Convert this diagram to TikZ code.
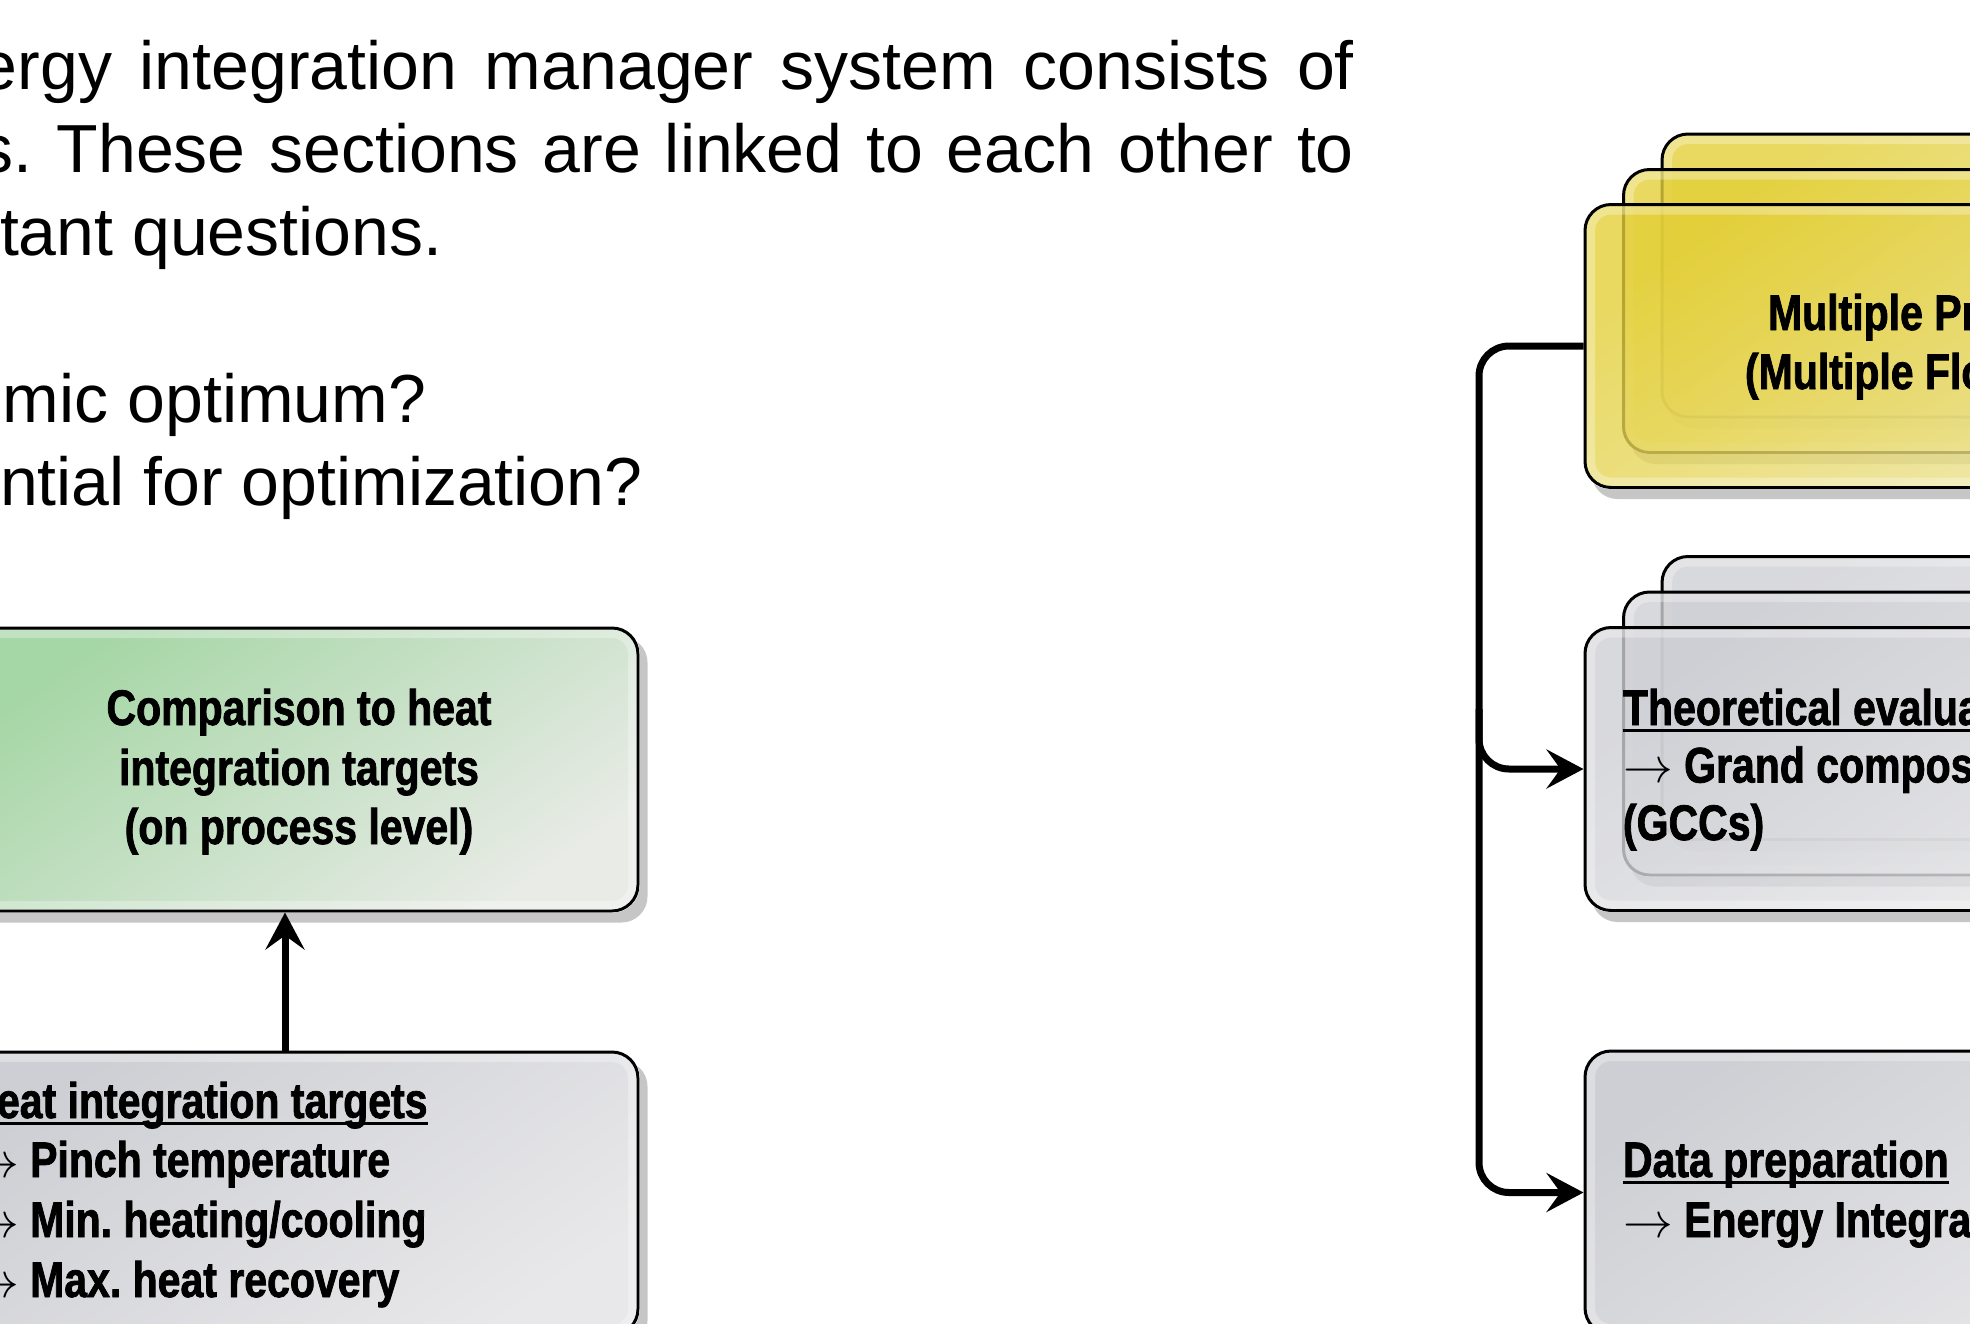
\documentclass[tikz,border=0pt]{standalone}
\usepackage{fontspec}
\setmainfont{Liberation Sans}
\newfontfamily\narrowfont{Liberation Sans}[FakeStretch=0.82, FakeBold=1.5]
\usetikzlibrary{arrows.meta,calc}

\definecolor{ylwA}{HTML}{E3CF38}
\definecolor{ylwB}{HTML}{ECE39E}
\definecolor{gryA}{HTML}{CECFD4}
\definecolor{gryB}{HTML}{E8E8EA}
\definecolor{grnA}{HTML}{A5D6A5}
\definecolor{grnB}{HTML}{E8EBE6}
\definecolor{shadowgray}{HTML}{C6C6C6}

% underline set at a fixed depth below the baseline
\newsavebox\ulbox
\newcommand{\ulined}[1]{\sbox\ulbox{#1}\rlap{\rule[-3.25pt]{\wd\ulbox}{1.5pt}}\usebox\ulbox}

% soft shadow to the lower right, kept outside the panel itself
\newcommand{\panelshadow}[1]{%
  \begin{scope}[even odd rule]
    \clip[rounded corners=13pt] (-100,-100) rectangle (2100,1450)
      (#1.south west) rectangle (#1.north east);
    \fill[shadowgray, rounded corners=13pt]
      ([xshift=4pt,yshift=-5pt]#1.south west) rectangle ([xshift=4pt,yshift=-5pt]#1.north east);
  \end{scope}}

\tikzset{
  panel/.style={draw=black, line width=1.5pt, rounded corners=13pt,
    minimum width=339pt, minimum height=141.5pt, inner sep=0pt,
    path picture={\draw[white, opacity=0.3, line width=10pt, rounded corners=13pt]
      (path picture bounding box.south west) rectangle (path picture bounding box.north east);}},
  yellowpanel/.style={panel, top color=ylwA, bottom color=ylwB, shading angle=35},
  graypanel/.style={panel, top color=gryA, bottom color=gryB, shading angle=35},
  greenpanel/.style={panel, top color=grnA, bottom color=grnB, shading angle=35},
  layered/.style={fill opacity=0.8},
  conn/.style={line width=3.5pt, rounded corners=15pt,
    -{Stealth[length=18.5pt, width=19.5pt, inset=7pt]}},
  plaintext/.style={inner sep=0pt, outer sep=0pt, anchor=base west},
  slidetext/.style={plaintext, font=\frenchspacing\fontsize{34pt}{41.5pt}\selectfont},
  boxtext/.style={plaintext, font=\narrowfont\bfseries\fontsize{25pt}{30pt}\selectfont},
}

\begin{document}
\frenchspacing
\begin{tikzpicture}[x=0.5pt, y=-0.5pt]
\useasboundingbox (0,0) rectangle (1970,1323);
\clip (0,0) rectangle (1970,1323);

% introductory text
\node[slidetext] (intro1) at (-20,89) {\makebox[687pt][s]{ergy integration manager system consists of}};
\node[slidetext] (intro2) at (-20,172) {\makebox[687pt][s]{s. These sections are linked to each other to}};
\node[slidetext] (intro3) at (0,255) {tant questions.};
\node[slidetext] (quest1) at (3,422) {mic optimum?};
\node[slidetext] (quest2) at (0,505) {ntial for optimization?};

% yellow stack
\node[yellowpanel, layered] (yel3) at (2001,275.5) {};
\panelshadow{yel3}
\node[yellowpanel, layered] (yel2) at (1962.5,311) {};
\panelshadow{yel2}
\node[yellowpanel, layered] (yel1) at (1924,346) {};
\panelshadow{yel1}

% gray stack
\node[graypanel, layered] (gry3) at (2001,698) {};
\panelshadow{gry3}
\node[graypanel, layered] (gry2) at (1962.5,733.5) {};
\panelshadow{gry2}
\node[graypanel, layered] (gry1) at (1924,769) {};
\panelshadow{gry1}

% single panels
\node[graypanel] (dat) at (1924,1192.5) {};
\panelshadow{dat}
\node[greenpanel] (cmp) at (299,769.5) {};
\panelshadow{cmp}
\node[graypanel] (heat) at (299,1193.5) {};
\panelshadow{heat}

% panel texts
\node[boxtext] (yt1) at (1768,330) {Multiple Pr};
\node[boxtext] (yt2) at (1745,389) {(Multiple Flo};

\node[boxtext] (gt1) at (1623,725) {\ulined{Theoretical evalua}};
\node[boxtext] (gt2) at (1623,782.5) {$\rightarrow$ Grand compos};
\node[boxtext] (gt3) at (1623,840) {(GCCs)};

\node[boxtext] (dt1) at (1623,1177) {\ulined{Data preparation}};
\node[boxtext] (dt2) at (1623,1237) {$\rightarrow$ Energy Integra};

\node[boxtext, anchor=base] (ct1) at (299,725) {Comparison to heat};
\node[boxtext, anchor=base] (ct2) at (299,785) {integration targets};
\node[boxtext, anchor=base] (ct3) at (299,844) {(on process level)};

\node[boxtext] (ht1) at (-3,1118) {\ulined{eat integration targets}};
\node[boxtext] (ht2) at (-31,1177) {$\rightarrow$ Pinch temperature};
\node[boxtext] (ht3) at (-31,1237) {$\rightarrow$ Min. heating/cooling};
\node[boxtext] (ht4) at (-31,1297) {$\rightarrow$ Max. heat recovery};

% connectors
\coordinate (spine) at (1479,0);
\coordinate (upx) at (285,0);
\draw[conn] (yel1.west) -- (yel1.west -| spine) -- (dat.west -| spine) -- (dat.west);
\draw[conn] ($(gry1.west -| spine)+(0,-60)$) -- (gry1.west -| spine) -- (gry1.west);
\draw[conn] (heat.north -| upx) -- (cmp.south -| upx);
\end{tikzpicture}
\end{document}
